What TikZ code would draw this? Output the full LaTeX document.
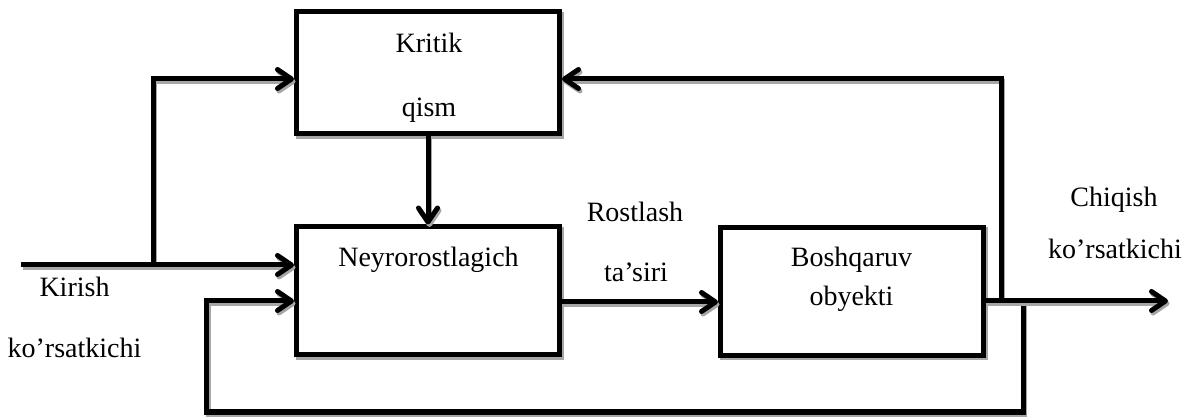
\documentclass[tikz,border=0pt]{standalone}
\usepackage{fontspec}
\setmainfont{Liberation Serif}
\usetikzlibrary{arrows.meta}
\begin{document}
\begin{tikzpicture}[x=1pt,y=-1pt,
  line width=5pt,
  shade line/.style={preaction={draw=black!35,transform canvas={shift={(1.5pt,-2.5pt)}}}},
  block/.style={draw,fill=white,shade line,inner sep=0pt,minimum width=263pt,minimum height=128pt},
  wire/.style={draw,shade line},
  arr/.style={wire,-{Straight Barb[length=14pt,width=19pt,round]}},
  lbl/.style={font=\fontsize{28}{31}\selectfont,anchor=base,inner sep=0pt}]
\useasboundingbox (0,0) rectangle (1194,419);

% blocks
\node[block,minimum height=122pt] (kritik) at (428,73) {};
\node[block] (neyro) at (428,291) {};
\node[block] (bosh) at (852,291.5) {};

% junction points and free ends
\coordinate (in) at (21,265);
\coordinate (j1) at (153,265);
\coordinate (out) at (1168,301);
\coordinate (s1) at (1001,301);
\coordinate (s2) at (1023,301);
\coordinate (fb) at (206.5,412);

% connectors
\path[arr] (j1) |- ([yshift=-6pt]kritik.west);
\path[arr] (in) -- (in -| neyro.west);
\path[arr] (kritik.south) -- (neyro.north);
\path[arr] ([yshift=-11pt]neyro.east) -- ([yshift=-11pt]neyro.east -| bosh.west);
\path[arr] (s1) |- ([yshift=-6pt]kritik.east);
\path[arr] (s2) |- (fb) |- ([yshift=-10pt]neyro.west);
\path[arr] (bosh.east |- out) -- (out);

% texts
\node[lbl] (k1) at (429,52.7) {Kritik};
\node[lbl] (k2) at (429,117) {qism};
\node[lbl] (n1) at (428.5,266.7) {Neyrorostlagich};
\node[lbl] (b1) at (851.5,266.7) {Boshqaruv};
\node[lbl] (b2) at (851.5,306) {obyekti};
\node[lbl] (r1) at (635,221.7) {Rostlash};
\node[lbl] (r2) at (636,281.7) {ta’siri};
\node[lbl] (i1) at (74.5,296.7) {Kirish};
\node[lbl] (i2) at (74.5,358) {ko’rsatkichi};
\node[lbl] (o1) at (1114,206.7) {Chiqish};
\node[lbl] (o2) at (1115,259) {ko’rsatkichi};
\end{tikzpicture}
\end{document}
